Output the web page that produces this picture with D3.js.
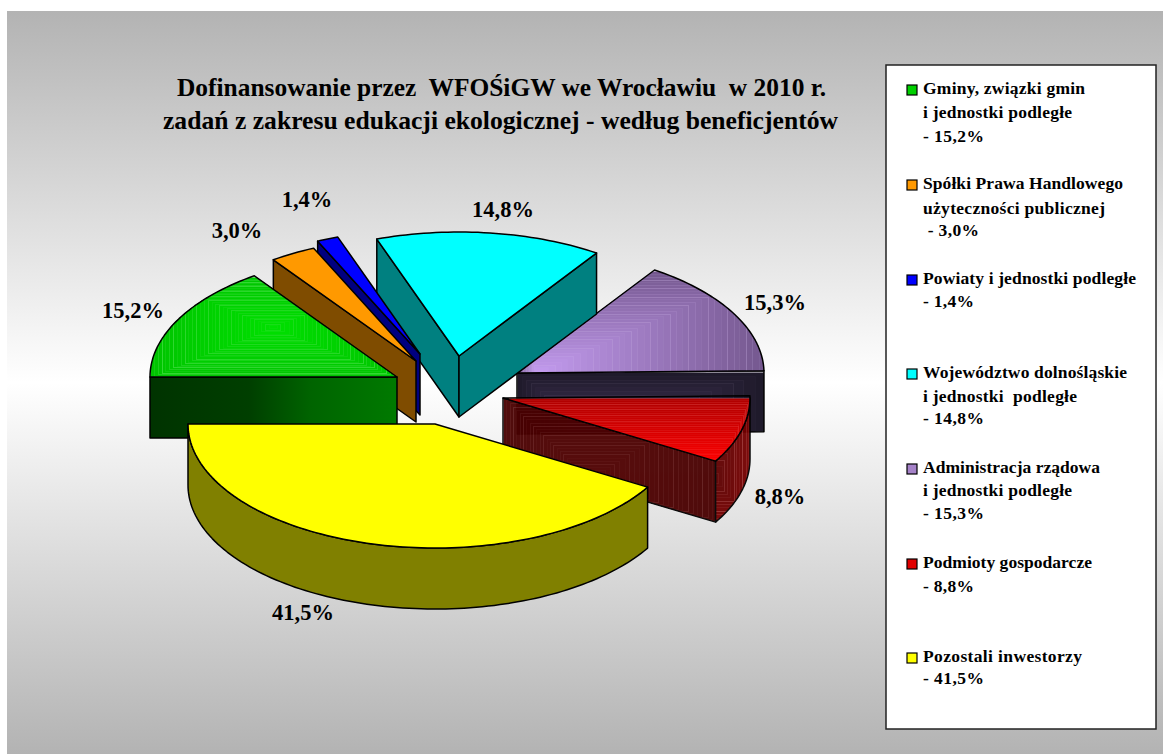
<!DOCTYPE html>
<html><head><meta charset="utf-8">
<script src="https://cdn.jsdelivr.net/npm/d3@7/dist/d3.min.js"></script>
<style>html,body{margin:0;padding:0;background:#fff}svg{display:block}text{font-family:"Liberation Serif",serif;font-weight:bold;fill:#000}</style>
</head><body><svg id="c" width="1163" height="754"></svg>
<script>
// ---- data ----
const categories = ["Gminy, związki gmin","Spółki Prawa Handlowego","Powiaty i jednostki podległe","Województwo dolnośląskie","Administracja rządowa","Podmioty gospodarcze","Pozostali inwestorzy"];
const shares = [15.2,3.0,1.4,14.8,15.3,8.8,41.5];
const titleLines = ["Dofinansowanie przez  WFOŚiGW we Wrocławiu  w 2010 r.","zadań z zakresu edukacji ekologicznej - według beneficjentów"];
const legendLines = [
  ["Gminy, związki gmin","i jednostki podległe","- 15,2%"],
  ["Spółki Prawa Handlowego","użyteczności publicznej"," - 3,0%"],
  ["Powiaty i jednostki podległe","- 1,4%"],
  ["Województwo dolnośląskie","i jednostki  podległe","- 14,8%"],
  ["Administracja rządowa","i jednostki podległe","- 15,3%"],
  ["Podmioty gospodarcze","- 8,8%"],
  ["Pozostali inwestorzy","- 41,5%"]
];
const topColors = ["#00dd00","#ff9900","#0000ff","#00ffff","#a582c8","#e00000","#ffff00"];
const sideColors = ["#005500","#7f4c00","#000080","#008080","#2a2238","#500000","#808000"];

// ---- layout (not data) ----
const W=1163,H=754,rx=247,ry=124,depth=61;
const apexes=[[397,377],[416,361],[420,354],[459,356],[517,373],[503,398],[435,424]];
const labelPos=[[133,318],[237,238],[307,207],[503,217],[775,310],[780,504],[303,620]];
const legendBase=[[94,118,142],[189,214,236],[284,307],[378,402,424],[473,496,519],[568,592],[662,684]];
const legendWidths=[[162,149,61],[200,182,56],[213,51],[204,154,61],[177,149,61],[169,51],[159,61]];
const drawOrder=[4,3,2,1,0,5,6];

const svg=d3.select("#c");
const defs=svg.append("defs");
const bg=defs.append("linearGradient").attr("id","bg").attr("x1",0).attr("y1",0).attr("x2",0).attr("y2",1);
bg.selectAll("stop").data([[0,"#b3b3b3"],[.5,"#ffffff"],[1,"#b3b3b3"]]).join("stop").attr("offset",d=>d[0]).attr("stop-color",d=>d[1]);
svg.append("rect").attr("x",7).attr("y",11).attr("width",W-7).attr("height",H-11).attr("fill","url(#bg)");

const pie=d3.pie().sort(null).startAngle(-Math.PI/2).endAngle(3*Math.PI/2);
const arcs=pie(shares);
const arcGen=d3.arc().innerRadius(0).outerRadius(rx);
const line=d3.line();
const P=(i,t,dy=0)=>[apexes[i][0]+rx*Math.sin(t),apexes[i][1]-ry*Math.cos(t)+dy];

const topPath=i=>{
  const a=arcs[i],n=Math.max(8,Math.ceil((a.endAngle-a.startAngle)*40));
  const pts=[apexes[i]].concat(d3.range(n+1).map(k=>P(i,a.startAngle+(a.endAngle-a.startAngle)*k/n)));
  return line(pts)+"Z";
};
const radialWall=(i,t)=>line([apexes[i],P(i,t),P(i,t,depth),[apexes[i][0],apexes[i][1]+depth]])+"Z";
const arcWall=(i)=>{
  const a=arcs[i];
  const t0=Math.max(a.startAngle,Math.PI/2),t1=Math.min(a.endAngle,3*Math.PI/2);
  if(t1<=t0) return null;
  const n=Math.ceil((t1-t0)*40),ang=d3.range(n+1).map(k=>t0+(t1-t0)*k/n);
  return line(ang.map(t=>P(i,t)).concat(ang.slice().reverse().map(t=>P(i,t,depth))))+"Z";
};

// concentric rectangular bands, imitating the stepped rectangular gradient of the original
let clipId=0;
function bands(g,d,box,focus,edge,center,stripe,maxOp,n){
  const id="clip"+(clipId++);
  defs.append("clipPath").attr("id",id).append("path").attr("d",d);
  const gg=g.append("g").attr("clip-path",`url(#${id})`);
  const col=d3.interpolateRgb(edge,center);
  d3.range(n).forEach(k=>{
    const t=k/n;
    const x0=box[0]+(focus[0]-box[0])*t,x1=box[2]+(focus[0]-box[2])*t;
    const y0=box[1]+(focus[1]-box[1])*t,y1=box[3]+(focus[1]-box[3])*t;
    gg.append("rect").attr("x",Math.round(x0)+.5).attr("y",Math.round(y0)+.5)
      .attr("width",Math.max(0,Math.round(x1-x0))).attr("height",Math.max(0,Math.round(y1-y0)))
      .attr("fill",col(t)).attr("stroke",stripe).attr("stroke-width",1)
      .attr("stroke-opacity",(k%3===0?1:k%3===1?.3:.55)*maxOp*(1-t*.6));
  });
}
const outline=(g,d)=>g.append("path").attr("d",d).attr("fill","none").attr("stroke","#000").attr("stroke-width",1.5).attr("stroke-linejoin","round");

const g0=defs.append("linearGradient").attr("id","gWall");
g0.selectAll("stop").data([[0,"#003300"],[.4,"#003f00"],[.65,"#006400"],[1,"#007a00"]]).join("stop").attr("offset",d=>d[0]).attr("stop-color",d=>d[1]);

drawOrder.forEach(i=>{
  const g=svg.append("g").attr("class","slice");
  const a=arcs[i];
  const walls=[];
  if(Math.sin(a.startAngle)<-1e-6) walls.push(radialWall(i,a.startAngle));
  if(Math.sin(a.endAngle)>1e-6) walls.push(radialWall(i,a.endAngle));
  const aw=arcWall(i);
  if(i===5){ // translucent striped wall of the red slice
    const w=g.append("g").attr("opacity",.95);
    bands(w,walls[0],[503,397,717,521],[590,480],"#480000","#500000","#d09090",.2,26);
    outline(w,walls[0]);
    bands(w,aw,[700,398,751,521],[715,480],"#780000","#5a0000","#ffb0b0",.3,12);
    outline(w,aw);
  } else if(i===4){
    bands(g,walls[0],[517,372,765,433],[590,433],"#1f1a2b","#4a3a62","#8a7a9a",.14,16);
    outline(g,walls[0]);
  } else {
    walls.forEach(d=>{g.append("path").attr("d",d).attr("fill",i===0?"url(#gWall)":sideColors[i]);outline(g,d);});
    if(aw){g.append("path").attr("d",aw).attr("fill",sideColors[i]);outline(g,aw);}
  }
  const d=topPath(i);
  const faceArc=arcGen.startAngle(a.startAngle).endAngle(a.endAngle)();
  if(i===0){
    bands(g,d,[150,277,397,377],[273,327],"#00c400","#00e000","#4ce04c",.7,32);
  } else if(i===4){
    bands(g,d,[517,271,765,373],[535,373],"#75588f","#c49cf0","#d8c0f0",.3,36);
  } else if(i===5){
    bands(g,d,[503,398,750,460],[722,462],"#b00000","#ff0000","#ff8a8a",.25,34);
  } else {
    g.append("path").attr("d",faceArc)
      .attr("transform",`translate(${apexes[i][0]},${apexes[i][1]}) scale(1,${ry/rx})`)
      .attr("fill",topColors[i]);
  }
  outline(g,d);
});

// percent labels
svg.append("g").selectAll("text").data(shares).join("text")
  .attr("x",(d,i)=>labelPos[i][0]).attr("y",(d,i)=>labelPos[i][1])
  .attr("text-anchor","middle").attr("font-size",22.5)
  .text(d=>d.toFixed(1).replace(".",",")+"%");

// title
const titleX=[177,163],titleW=[649,675],titleY=[96,129];
svg.append("g").selectAll("text").data(titleLines).join("text")
  .style("white-space","pre")
  .attr("x",(d,i)=>titleX[i]).attr("y",(d,i)=>titleY[i]).attr("font-size",26)
  .attr("textLength",(d,i)=>titleW[i]).attr("lengthAdjust","spacingAndGlyphs").text(d=>d);

// legend
svg.append("rect").attr("x",886).attr("y",65).attr("width",270).attr("height",664).attr("fill","#fff").attr("stroke","#222").attr("stroke-width",1.5);
const lg=svg.append("g").selectAll("g").data(categories).join("g");
const legendFill=["#00d000","#ff9900","#0000ff","#00ffff","#a582c8","#e00000","#ffff00"];
lg.append("rect").attr("x",907).attr("y",(d,i)=>legendBase[i][0]-9).attr("width",10).attr("height",10)
  .attr("fill",(d,i)=>legendFill[i]).attr("stroke","#000").attr("stroke-width",1.2);
lg.each(function(d,i){
  d3.select(this).selectAll("text").data(legendLines[i]).join("text")
    .style("white-space","pre")
    .attr("x",923)
    .attr("y",(t,k)=>legendBase[i][k]).attr("font-size",17.5)
    .attr("textLength",(t,k)=>legendWidths[i][k]).attr("lengthAdjust","spacing").text(t=>t);
});
</script></body></html>
